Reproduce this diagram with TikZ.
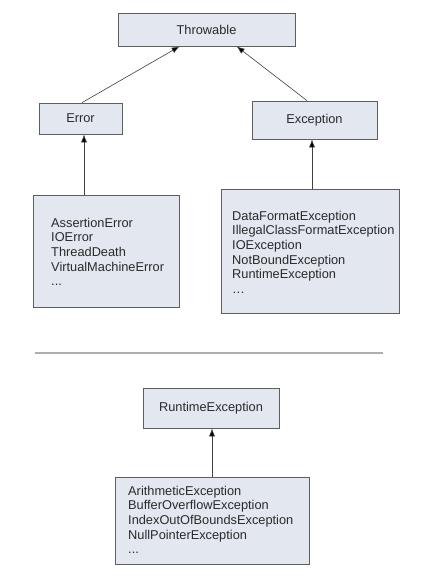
\documentclass[tikz,border=0pt]{standalone}
\usepackage{fontspec}
\setmainfont{Liberation Sans}
\usetikzlibrary{arrows.meta,shadows}
\definecolor{boxfill}{HTML}{E3E7EF}
\definecolor{boxline}{HTML}{5E5E5E}
\definecolor{txt}{HTML}{2A2A2A}
\definecolor{sep}{HTML}{AEAEAE}
\tikzset{
  cls/.style={draw=boxline, line width=0.7pt, fill=boxfill, inner sep=0pt,
    drop shadow={shadow xshift=1.2pt, shadow yshift=-1.2pt, fill=black!45, opacity=1}},
  lbl/.style={text=txt, font=\fontsize{12.8}{14.6}\selectfont, inner sep=0pt},
  lst/.style={lbl, align=left, anchor=north west},
  arr/.style={draw=black!75, line width=0.6pt, -{Latex[length=8pt,width=6pt,fill=black]}}
}
\begin{document}
\begin{tikzpicture}[x=1pt,y=-1pt]
\useasboundingbox[fill=white] (0,0) rectangle (424,584);
% boxes
\node[cls, minimum width=177pt, minimum height=33pt] (thr) at (206.5,29.5) {};
\node[lbl] (thrt) at (thr.center) {Throwable};
\node[cls, minimum width=83pt, minimum height=31pt] (err) at (80.5,118.5) {};
\node[lbl] (errt) at (err.center) {Error};
\node[cls, minimum width=125pt, minimum height=38pt] (exc) at (314.5,120) {};
\node[lbl] (exct) at (exc.center) {Exception};
\node[cls, minimum width=146pt, minimum height=112pt] (errl) at (106,251) {};
\node[lst] (errlt) at (51,217.8) {AssertionError\\IOError\\ThreadDeath\\VirtualMachineError\\...};
\node[cls, minimum width=178pt, minimum height=124pt] (excl) at (310,251) {};
\node[lst] (exclt) at (232,210.8) {DataFormatException\\IllegalClassFormatException\\IOException\\NotBoundException\\RuntimeException\\…};
% separator
\coordinate (s1) at (35,353);
\coordinate (s2) at (383,353);
\draw[sep, line width=1.4pt] (s1) -- (s2);
% runtime
\node[cls, minimum width=136pt, minimum height=40pt] (rte) at (211,408) {};
\node[lbl] (rtet) at (rte.center) {RuntimeException};
\node[cls, minimum width=194pt, minimum height=87pt] (rtl) at (212,520.5) {};
\node[lst] (rtlt) at (128,485.8) {ArithmeticException\\BufferOverflowException\\IndexOutOfBoundsException\\NullPointerException\\...};
% connectors
\draw[arr] ([xshift=1.5pt]err.north) -- ([xshift=62pt]thr.south west);
\draw[arr] ([xshift=-7.5pt]exc.north) -- ([xshift=119pt]thr.south west);
\draw[arr] ([xshift=-22pt]errl.north) -- ([xshift=3.5pt]err.south);
\draw[arr] ([xshift=2pt]excl.north) -- ([xshift=-2.5pt]exc.south);
\draw[arr] ([xshift=0pt]rtl.north) -- ([xshift=1pt]rte.south);
\end{tikzpicture}
\end{document}
